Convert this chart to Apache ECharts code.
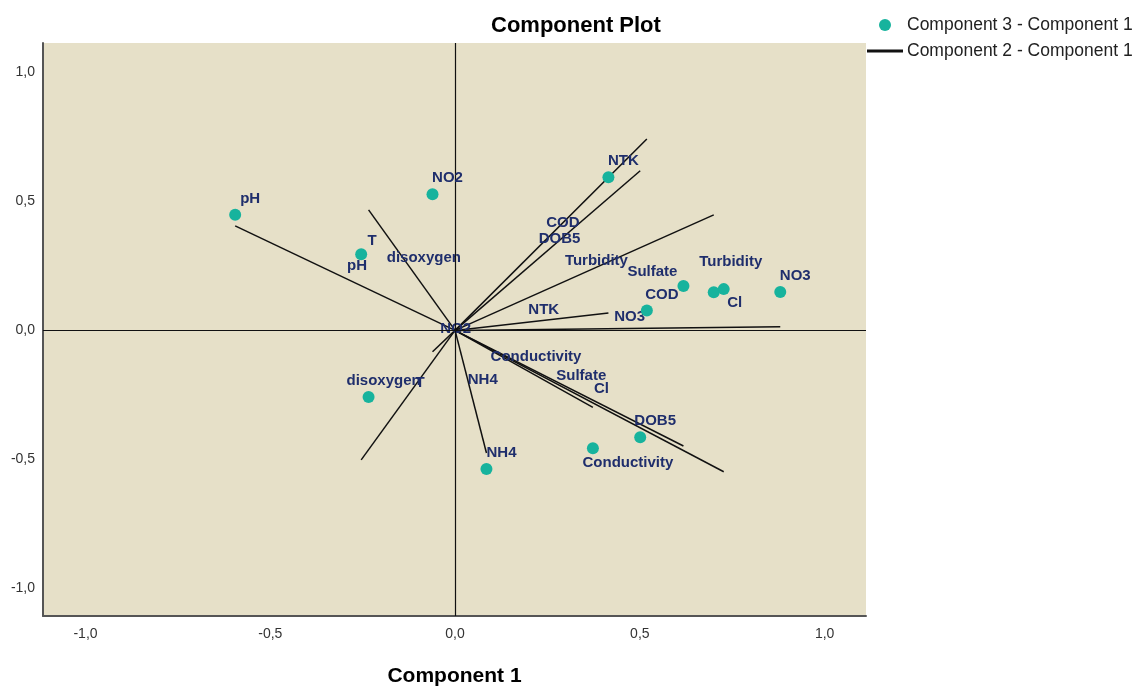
<!DOCTYPE html>
<html>
<head>
<meta charset="utf-8">
<title>Component Plot</title>
<script src="https://cdn.jsdelivr.net/npm/echarts@6/dist/echarts.min.js"></script>
<style>
  html, body { margin: 0; padding: 0; background: #ffffff; }
  #chart { width: 1134px; height: 686px; }
</style>
</head>
<body>
<div id="chart"></div>
<script>
// Variables of the principal component analysis
const variables = ['pH', 'T', 'NO2', 'NTK', 'COD', 'DOB5', 'Turbidity', 'Sulfate', 'NO3', 'Cl', 'Conductivity', 'NH4', 'disoxygen'];
// Loadings on each component
const component1 = [-0.595, -0.254, -0.061, 0.415, 0.519, 0.501, 0.700, 0.618, 0.880, 0.727, 0.373, 0.085, -0.234];
const component2 = [0.405, -0.502, -0.083, 0.067, 0.742, 0.619, 0.448, -0.448, 0.014, -0.548, -0.298, -0.475, 0.467];
const component3 = [0.448, 0.295, 0.528, 0.594, 0.077, -0.414, 0.148, 0.172, 0.149, 0.160, -0.457, -0.537, -0.258];
// Axis ticks
const tickValues = [-1, -0.5, 0, 0.5, 1];
const tickLabels = ['-1,0', '-0,5', '0,0', '0,5', '1,0'];

const seriesPoints = 'Component 3 - Component 1';
const seriesVectors = 'Component 2 - Component 1';

const labelColor = '#1F2E6C';
const fontFamily = "'Liberation Sans', Arial, sans-serif";

// Label nudges for crowded points (pixels)
const pointLabelOffset = {
  T: [11, -13],
  Sulfate: [-31, -14],
  Turbidity: [17, -30],
  Cl: [11, 14],
  Conductivity: [35, 15]
};

const tickText = v => {
  const i = tickValues.findIndex(t => Math.abs(t - v) < 1e-9);
  return i >= 0 ? tickLabels[i] : '';
};

const chart = echarts.init(document.getElementById('chart'), null, { renderer: 'canvas' });

const option = {
  animation: false,
  backgroundColor: '#ffffff',
  title: {
    text: 'Component Plot',
    left: 491,
    top: 15,
    padding: 0,
    textStyle: { fontFamily, fontWeight: 'bold', fontSize: 22, color: '#000' }
  },
  legend: {
    orient: 'vertical',
    left: 867,
    top: 16,
    padding: 0,
    itemWidth: 34,
    itemHeight: 12,
    itemGap: 8,
    textStyle: { fontFamily, fontSize: 17.5, color: '#222' },
    data: [
      { name: seriesPoints, icon: 'circle' },
      { name: seriesVectors, icon: 'path://M0,0L68,0L68,2L0,2Z' }
    ]
  },
  grid: {
    left: 43,
    right: 268,
    top: 43,
    bottom: 70,
    outerBoundsMode: 'none',
    containLabel: false,
    show: true,
    backgroundColor: '#E6E0C8',
    borderWidth: 0
  },
  xAxis: {
    type: 'value',
    min: -1.115,
    max: 1.112,
    name: 'Component 1',
    nameLocation: 'middle',
    nameGap: 50,
    nameTextStyle: { fontFamily, fontWeight: 'bold', fontSize: 21, color: '#000' },
    axisLine: { show: true, onZero: false, lineStyle: { color: '#555', width: 2 } },
    axisTick: { show: false },
    splitLine: { show: false },
    axisLabel: {
      customValues: tickValues,
      formatter: tickText,
      margin: 11,
      fontFamily, fontSize: 14, color: '#333'
    }
  },
  yAxis: {
    type: 'value',
    min: -1.107,
    max: 1.114,
    axisLine: { show: true, onZero: false, lineStyle: { color: '#555', width: 2 } },
    axisTick: { show: false },
    splitLine: { show: false },
    axisLabel: {
      customValues: tickValues,
      formatter: tickText,
      margin: 8,
      fontFamily, fontSize: 14, color: '#333'
    }
  },
  series: [
    {
      // loading vectors from the origin
      name: seriesVectors,
      type: 'lines',
      coordinateSystem: 'cartesian2d',
      silent: true,
      z: 3,
      itemStyle: { color: '#111' },
      lineStyle: { color: '#111', width: 1.5, opacity: 1, curveness: 0 },
      data: variables.map((v, i) => ({ name: v, coords: [[0, 0], [component1[i], component2[i]]] })),
      markLine: {
        silent: true,
        symbol: 'none',
        label: { show: false },
        lineStyle: { color: '#111', width: 1.2, type: 'solid' },
        data: [{ xAxis: 0 }, { yAxis: 0 }]
      }
    },
    {
      // names of the loading vectors, set at each vector's midpoint
      name: 'vectorNames',
      type: 'scatter',
      symbolSize: 0,
      silent: true,
      z: 4,
      itemStyle: { opacity: 1 },
      data: variables.map((v, i) => ({ name: v, value: [component1[i] / 2, component2[i] / 2] })),
      label: {
        show: true,
        position: 'inside',
        offset: [12, -12],
        formatter: p => p.name,
        fontFamily, fontWeight: 'bold', fontSize: 15, color: labelColor
      }
    },
    {
      name: seriesPoints,
      type: 'scatter',
      symbol: 'circle',
      symbolSize: 12,
      z: 5,
      itemStyle: { color: '#17B39D', opacity: 1 },
      data: variables.map((v, i) => ({
        name: v,
        value: [component1[i], component3[i]],
        label: { offset: pointLabelOffset[v] || [15, -16] }
      })),
      label: {
        show: true,
        position: 'inside',
        formatter: p => p.name,
        fontFamily, fontWeight: 'bold', fontSize: 15, color: labelColor
      }
    }
  ]
};

chart.setOption(option);
</script>
</body>
</html>
